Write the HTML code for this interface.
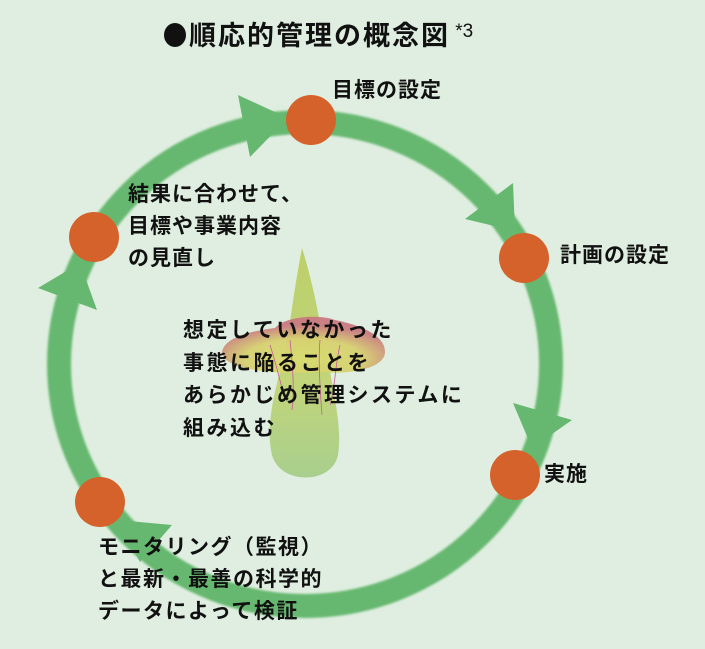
<!DOCTYPE html>
<html><head><meta charset="utf-8"><style>
html,body{margin:0;padding:0}
body{width:705px;height:649px;background:#dfeee0;position:relative;overflow:hidden;font-family:"Liberation Sans","Noto Sans CJK JP",sans-serif;font-weight:bold;color:#111}
.t{position:absolute;white-space:nowrap;font-size:21px;line-height:32px;letter-spacing:1px}
</style></head><body>
<svg width="705" height="649" style="position:absolute;left:0;top:0">
<defs>
<linearGradient id="sp" x1="0" y1="0" x2="0" y2="1"><stop offset="0" stop-color="#bccf6a"/><stop offset="0.6" stop-color="#c2d57a"/><stop offset="1" stop-color="#a8cf8e"/></linearGradient>
<radialGradient id="fl" cx="0.5" cy="0.75" r="0.6"><stop offset="0" stop-color="#d8dc70"/><stop offset="0.6" stop-color="#d6d070"/><stop offset="1" stop-color="#c97a80"/></radialGradient>
<filter id="b"><feGaussianBlur stdDeviation="1"/></filter>
</defs>
<ellipse cx="305" cy="364" rx="246" ry="242" fill="none" stroke="#66b870" stroke-width="24" filter="url(#b)"/>
<g fill="#66b870">
<polygon points="238,95 288,118 250,157"/>
<polygon points="513,183 465,219 515,231"/>
<polygon points="513,403 572,420 532,448"/>
<polygon points="118,520 172,525 140,562"/>
<polygon points="38,288 80,263 97,310"/>
</g>
<path d="M302,248 C292,300 290,330 283,360 C272,400 266,430 272,455 C280,485 332,485 338,455 C342,430 335,400 328,360 C320,330 318,300 302,248 Z" fill="url(#sp)"/>
<path d="M222,352 C225,335 260,330 275,328 C285,316 320,314 335,320 C360,325 385,335 385,352 C385,368 350,375 320,372 C290,375 222,372 222,352 Z" fill="url(#fl)" opacity="0.95"/>
<g stroke="#c85a9a" stroke-width="0.8" fill="none">
<path d="M270,345 C275,360 280,380 285,400"/><path d="M290,340 C292,360 295,390 292,410"/><path d="M320,340 C318,360 320,390 322,415"/><path d="M340,345 C335,365 335,390 330,405"/>
</g>
<g fill="#d5622a">
<circle cx="311" cy="120" r="25"/>
<circle cx="524" cy="258" r="25"/>
<circle cx="515" cy="475" r="25"/>
<circle cx="100" cy="502" r="25"/>
<circle cx="94" cy="237" r="25"/>
</g>
<ellipse cx="175" cy="35" rx="11" ry="12" fill="#111"/>
</svg>
<div class="t" style="left:189px;top:16px;font-size:27px;letter-spacing:2px;">順応的管理の概念図<span style="font-size:19px;font-weight:normal;vertical-align:8px;letter-spacing:0"> *3</span></div>
<div class="t" style="left:332px;top:75px;">目標の設定</div>
<div class="t" style="left:560px;top:240px;">計画の設定</div>
<div class="t" style="left:544px;top:459px;">実施</div>
<div class="t" style="left:128px;top:179px;">結果に合わせて、<br>目標や事業内容<br>の見直し</div>
<div class="t" style="left:183px;top:315px;line-height:32.5px;letter-spacing:2.5px;">想定していなかった<br>事態に陥ることを<br>あらかじめ管理システムに<br>組み込む</div>
<div class="t" style="left:98px;top:532px;letter-spacing:1.5px;">モニタリング（監視）<br>と最新・最善の科学的<br>データによって検証</div>
</body></html>
